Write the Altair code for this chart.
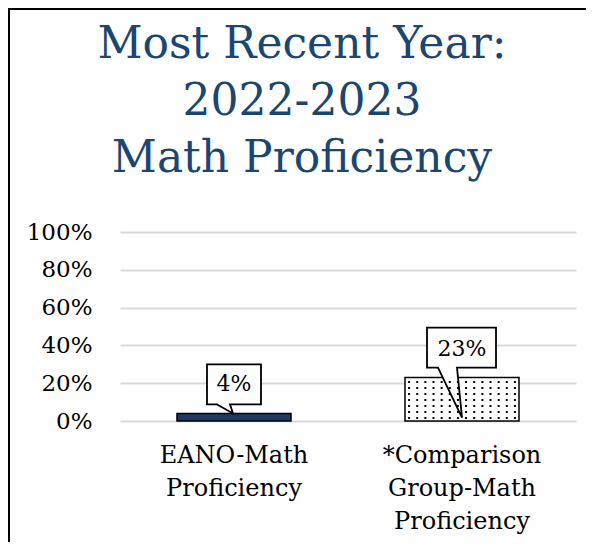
import altair as alt
import pandas as pd

# ---- data ----
categories = ["EANO-Math Proficiency", "*Comparison Group-Math Proficiency"]
values = [0.04, 0.23]
value_labels = ["4%", "23%"]
bar_colors = ["#203864", "#ffffff"]
title_lines = ["Most Recent Year:", "2022-2023", "Math Proficiency"]
y_ticks = [0, 0.2, 0.4, 0.6, 0.8, 1.0]

# callout outline shapes (pixel units, anchored at the bar top)
callout_paths = [
    "M-27,-49 L27,-49 L27,-9 L-4,-9 L-1,0 L-17,-9 L-27,-9 Z",
    "M-35,-50 L34,-50 L34,-10 L-5,-10 L0,40 L-24,-10 L-35,-10 Z",
]

FONT = "DejaVu Serif"
W, H = 456, 189

bars = pd.DataFrame({"cat": categories, "val": values, "color": bar_colors,
                     "label": value_labels, "path": callout_paths})

# dotted texture for the comparison bar (decoration only), x in "band step" units
dot_cols = 14
dot_step = 6 / H
dots_list = []
r = 0
while (r + 0.5) * dot_step < values[1]:
    for c in range(dot_cols):
        dots_list.append({"dx": 1.25 + (c + 0.5) / dot_cols * 0.5,
                          "val": (r + 0.5) * dot_step})
    r += 1
dots = pd.DataFrame(dots_list)

xscale = alt.Scale(domain=categories, paddingInner=0.5, paddingOuter=0.25)
yscale = alt.Scale(domain=[0, 1])

x_main = alt.X("cat:N", scale=xscale, sort=categories,
               axis=alt.Axis(title=None, labelExpr="split(datum.label, ' ')",
                             labelAngle=0, labelFont=FONT, labelFontSize=24,
                             labelColor="#000000", labelLineHeight=33,
                             labelPadding=22, ticks=False, domain=False,
                             labelLimit=300, grid=False))
y_main = alt.Y("val:Q", scale=yscale,
               axis=alt.Axis(title=None, values=y_ticks, format=".0%",
                             labelFont=FONT, labelFontSize=23, labelColor="#000000",
                             labelPadding=28, ticks=False, domain=False,
                             labelOverlap=False,
                             grid=True, gridColor="#d9d9d9", gridWidth=2))

bar_layer = alt.Chart(bars).mark_bar(stroke="#000000", strokeWidth=1.5).encode(
    x=x_main, y=y_main,
    fill=alt.Fill("color:N", scale=None),
)

dot_layer = alt.Chart(dots).mark_square(size=4, color="#000000", opacity=1).encode(
    x=alt.X("dx:Q", scale=alt.Scale(domain=[0, 2], nice=False, zero=False), axis=None),
    y=y_main,
)

callout_layer = alt.Chart(bars).mark_point(
    filled=False, fill="#ffffff", fillOpacity=1, stroke="#000000",
    strokeWidth=1.8, opacity=1, size=4
).encode(
    x=x_main, y=y_main,
    shape=alt.Shape("path:N", scale=None),
)

text_layer = alt.Chart(bars).mark_text(
    font=FONT, fontSize=22, color="#000000", dy=-29, baseline="middle"
).encode(
    x=x_main, y=y_main,
    text="label:N",
)

title_layer = alt.Chart(alt.Data(values=[{"t": title_lines}])).mark_text(
    font=FONT, fontSize=44, color="#1B4670", lineHeight=57,
    align="center", baseline="alphabetic"
).encode(
    x=alt.value(182), y=alt.value(-174), text="t:N",
)

# chart frame: left and top edges (right/bottom edges lie outside the view)
frame_left = alt.Chart(alt.Data(values=[{"a": 1}])).mark_rule(
    color="#000000", strokeWidth=2
).encode(
    x=alt.value(-111), y=alt.value(-224), y2=alt.value(H + 130),
)
frame_top = alt.Chart(alt.Data(values=[{"a": 1}])).mark_rule(
    color="#000000", strokeWidth=2
).encode(
    x=alt.value(-112), x2=alt.value(W + 30), y=alt.value(-223),
)

main = alt.layer(bar_layer, callout_layer, text_layer)
chart = alt.layer(main, dot_layer, title_layer, frame_left, frame_top).resolve_scale(
    x="independent"
).properties(
    width=W, height=H,
    autosize=alt.AutoSizeParams(type="none"),
    padding={"left": 112, "top": 224, "right": 10, "bottom": 121},
).configure_view(stroke=None)

chart.save("out.html", embed_options={"renderer": "svg", "actions": False})
